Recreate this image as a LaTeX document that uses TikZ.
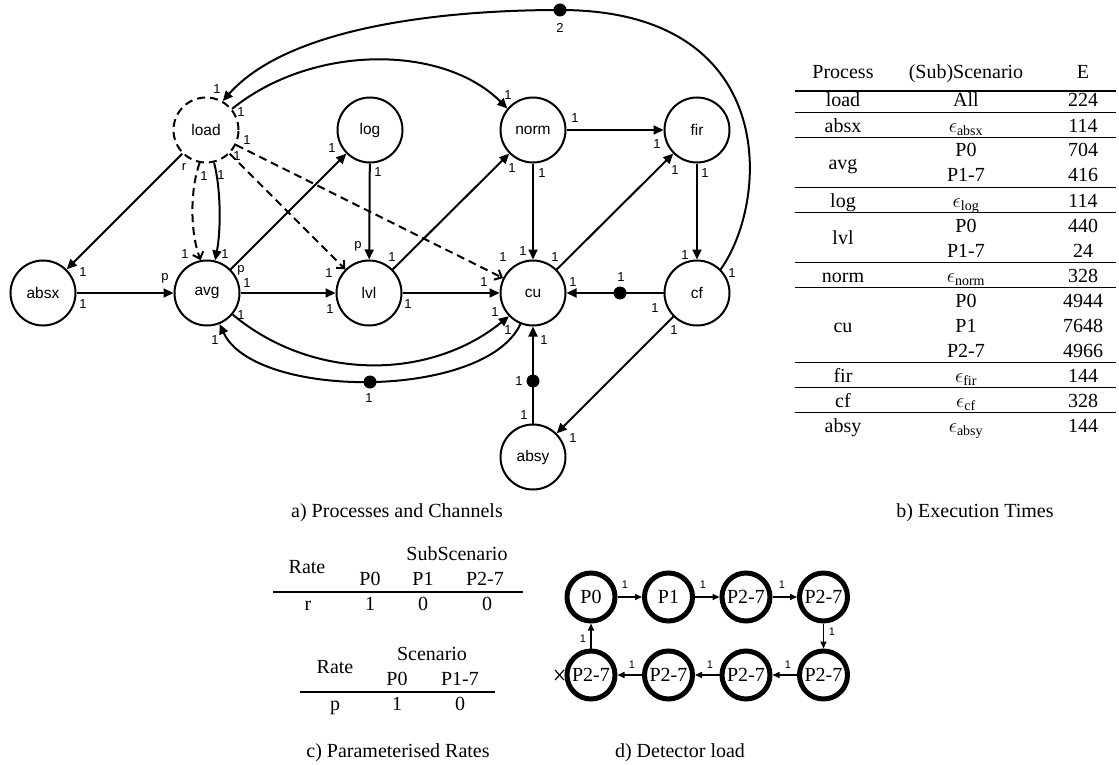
\documentclass[tikz,border=0pt]{standalone}
\usepackage{fontspec}
\setmainfont{Liberation Serif}
\setsansfont{Liberation Sans}
\usetikzlibrary{arrows.meta}
\begin{document}
\begin{tikzpicture}[x=1pt,y=1pt,
  proc/.style={circle,draw,line width=2pt,minimum size=65pt,inner sep=0pt,font=\sffamily\fontsize{15.5}{18}\selectfont},
  lbl/.style={font=\sffamily\fontsize{13}{15}\selectfont,inner sep=0pt},
  arr/.style={line width=2pt,-{Triangle[length=10pt,width=9pt]}},
  darr/.style={line width=2pt,dash pattern=on 8pt off 5pt,-{Straight Barb[length=6pt,width=11pt]}},
  token/.style={circle,fill,inner sep=0pt,minimum size=13pt},
  tb/.style={font=\fontsize{20}{24}\selectfont,anchor=base,inner sep=0pt},
  rul/.style={line width=1.2pt},
  det/.style={circle,draw,line width=5pt,minimum size=48pt,inner sep=0pt,font=\fontsize{20}{24}\selectfont},
  darrb/.style={line width=1.5pt,-{Triangle[length=7pt,width=6pt]}},
  slbl/.style={font=\sffamily\fontsize{11}{13}\selectfont,inner sep=0pt}
]
\useasboundingbox (0,0) rectangle (1119,-765);

% ---------- a) processes ----------
\node[proc,dash pattern=on 8pt off 5pt] (load) at (206,-130) {load};
\node[proc] (log)  at (370,-130) {log};
\node[proc] (norm) at (533,-130) {norm};
\node[proc] (fir)  at (697,-130) {fir};
\node[proc] (absx) at (43,-293) {absx};
\node[proc] (avg)  at (207,-293) {avg};
\node[proc] (lvl)  at (369,-293) {lvl};
\node[proc] (cu)   at (533,-293) {cu};
\node[proc] (cf)   at (697,-293) {cf};
\node[proc] (absy) at (533,-457) {absy};

\node[token] (t2) at (560,-10) {};
\node[token] (t1) at (620,-293) {};
\node[token] (t4) at (533,-381) {};
\node[token] (t3) at (370,-382) {};

\draw[arr] (load) -- (absx);
\draw[arr] (absx) -- (avg);
\draw[darr] (load.-101) .. controls (190,-190) and (190,-232) .. (avg.101);
\draw[arr] (load.-76) .. controls (221,-190) and (221,-230) .. (avg.76);
\draw[darr] (load) -- (lvl);
\draw[darr] (load) -- (cu);
\draw[arr] (load.39) .. controls (312,-44) and (443,-44) .. (norm.140);
\draw[arr] (cf.45) .. controls (770,-200) and (780,-10) .. (t2.center)
   .. controls (450,-10) and (290,-25) .. (load.60);
\draw[arr] (avg) -- (log);
\draw[arr] (log) -- (lvl);
\draw[arr] (avg) -- (lvl);
\draw[arr] (lvl) -- (norm);
\draw[arr] (lvl) -- (cu);
\draw[arr] (norm) -- (fir);
\draw[arr] (norm) -- (cu);
\draw[arr] (cu) -- (fir);
\draw[arr] (fir) -- (cf);
\draw[arr] (cf) -- (cu);
\draw[arr] (cf) -- (absy);
\draw[arr] (absy) -- (cu);
\draw[arr] (avg.-40) .. controls (312,-381) and (429,-381) .. (cu.-136);
\draw[arr] (cu.-112) .. controls (485,-400) and (255,-400) .. (avg.-68);

% labels
\foreach \x/\y/\t in {217/89/1,241/112/1,247/140/1,237/156/1,184/167/r,204/176/1,221/175/1,
  83/272/1,83/304/1,165/278/p,185/254/1,225/254/1,241/270/p,247/283/1,241/315/1,215/340/1,
  332/148/1,378/172/1,358/246/p,329/273/1,330/309/1,392/257/1,408/304/1,
  508/95/1,575/118/1,512/168/1,542/173/1,657/144/1,675/170/1,705/173/1,
  523/251/1,503/257/1,555/257/1,484/282/1,573/282/1,495/312/1,508/330/1,544/340/1,
  685/255/1,732/273/1,655/308/1,674/330/1,621/277/1,519/381/1,369/398/1,560/28/2,
  524/415/1,573/438/1}
  \node[lbl] at (\x,-\y) {\t};

\node[tb,anchor=base] at (397,-517) {a) Processes and Channels};

% ---------- b) execution times ----------
\foreach \x/\t in {843/Process,966/(Sub)Scenario,1083/E}
  \node[tb] at (\x,-79) {\t};
\foreach \y in {91,112.5,137.5,187.5,212.5,262.5,287.5,362.5,387.5,412.5}
  \draw[rul] (795,-\y) -- (1116,-\y);
\node[tb] at (843,-107) {load};   \node[tb] at (966,-107) {All};  \node[tb] at (1083,-107) {224};
\node[tb] at (843,-132) {absx};   \node[tb] at (966,-132) {$\epsilon$\textsubscript{absx}}; \node[tb] at (1083,-132) {114};
\node[tb] at (843,-169.5) {avg};  \node[tb] at (966,-157) {P0};   \node[tb] at (1083,-157) {704};
                                   \node[tb] at (966,-182) {P1-7}; \node[tb] at (1083,-182) {416};
\node[tb] at (843,-207) {log};    \node[tb] at (966,-207) {$\epsilon$\textsubscript{log}}; \node[tb] at (1083,-207) {114};
\node[tb] at (843,-244.5) {lvl};  \node[tb] at (966,-232) {P0};   \node[tb] at (1083,-232) {440};
                                   \node[tb] at (966,-257) {P1-7}; \node[tb] at (1083,-257) {24};
\node[tb] at (843,-282) {norm};   \node[tb] at (966,-282) {$\epsilon$\textsubscript{norm}}; \node[tb] at (1083,-282) {328};
\node[tb] at (843,-332) {cu};     \node[tb] at (966,-307) {P0};   \node[tb] at (1083,-307) {4944};
                                   \node[tb] at (966,-332) {P1};   \node[tb] at (1083,-332) {7648};
                                   \node[tb] at (966,-357) {P2-7}; \node[tb] at (1083,-357) {4966};
\node[tb] at (843,-382) {fir};    \node[tb] at (966,-382) {$\epsilon$\textsubscript{fir}}; \node[tb] at (1083,-382) {144};
\node[tb] at (843,-407) {cf};     \node[tb] at (966,-407) {$\epsilon$\textsubscript{cf}}; \node[tb] at (1083,-407) {328};
\node[tb] at (843,-432) {absy};   \node[tb] at (966,-432) {$\epsilon$\textsubscript{absy}}; \node[tb] at (1083,-432) {144};
\node[tb] at (975,-517) {b) Execution Times};

% ---------- c) parameterised rates ----------
\node[tb] at (457,-560) {SubScenario};
\node[tb] at (307,-573) {Rate};
\node[tb] at (370,-585) {P0}; \node[tb] at (423,-585) {P1}; \node[tb] at (485,-585) {P2-7};
\draw[rul] (273,-592) -- (523,-592);
\node[tb] at (308,-610) {r}; \node[tb] at (370,-610) {1}; \node[tb] at (423,-610) {0}; \node[tb] at (487,-610) {0};

\node[tb] at (432,-660) {Scenario};
\node[tb] at (335,-673) {Rate};
\node[tb] at (397,-685) {P0}; \node[tb] at (460,-685) {P1-7};
\draw[rul] (300,-692) -- (495,-692);
\node[tb] at (335,-710) {p}; \node[tb] at (397,-710) {1}; \node[tb] at (460,-710) {0};
\node[tb] at (398,-757) {c) Parameterised Rates};

% ---------- d) detector load ----------
\draw[line width=1.2pt] (555,-670) -- (564,-680) (555,-680) -- (564,-670);
\node[det,fill=white] (d1) at (591,-597) {P0};
\node[det] (d2) at (668.5,-597) {P1};
\node[det] (d3) at (746,-597) {P2-7};
\node[det] (d4) at (823.5,-597) {P2-7};
\node[det] (d5) at (823.5,-675) {P2-7};
\node[det] (d6) at (746,-675) {P2-7};
\node[det] (d7) at (668.5,-675) {P2-7};
\node[det,fill=white] (d8) at (591,-675) {P2-7};
\draw[darrb] (d1) -- (d2);
\draw[darrb] (d2) -- (d3);
\draw[darrb] (d3) -- (d4);
\draw[darrb] (d4) -- (d5);
\draw[darrb] (d5) -- (d6);
\draw[darrb] (d6) -- (d7);
\draw[darrb] (d7) -- (d8);
\draw[darrb] (d8) -- (d1);
\foreach \x/\y in {625/585,703/585,782/585,832/632,788/665,710/665,632/665,583/639}
  \node[slbl] at (\x,-\y) {1};
\node[tb] at (680,-757) {d) Detector load};
\end{tikzpicture}
\end{document}
